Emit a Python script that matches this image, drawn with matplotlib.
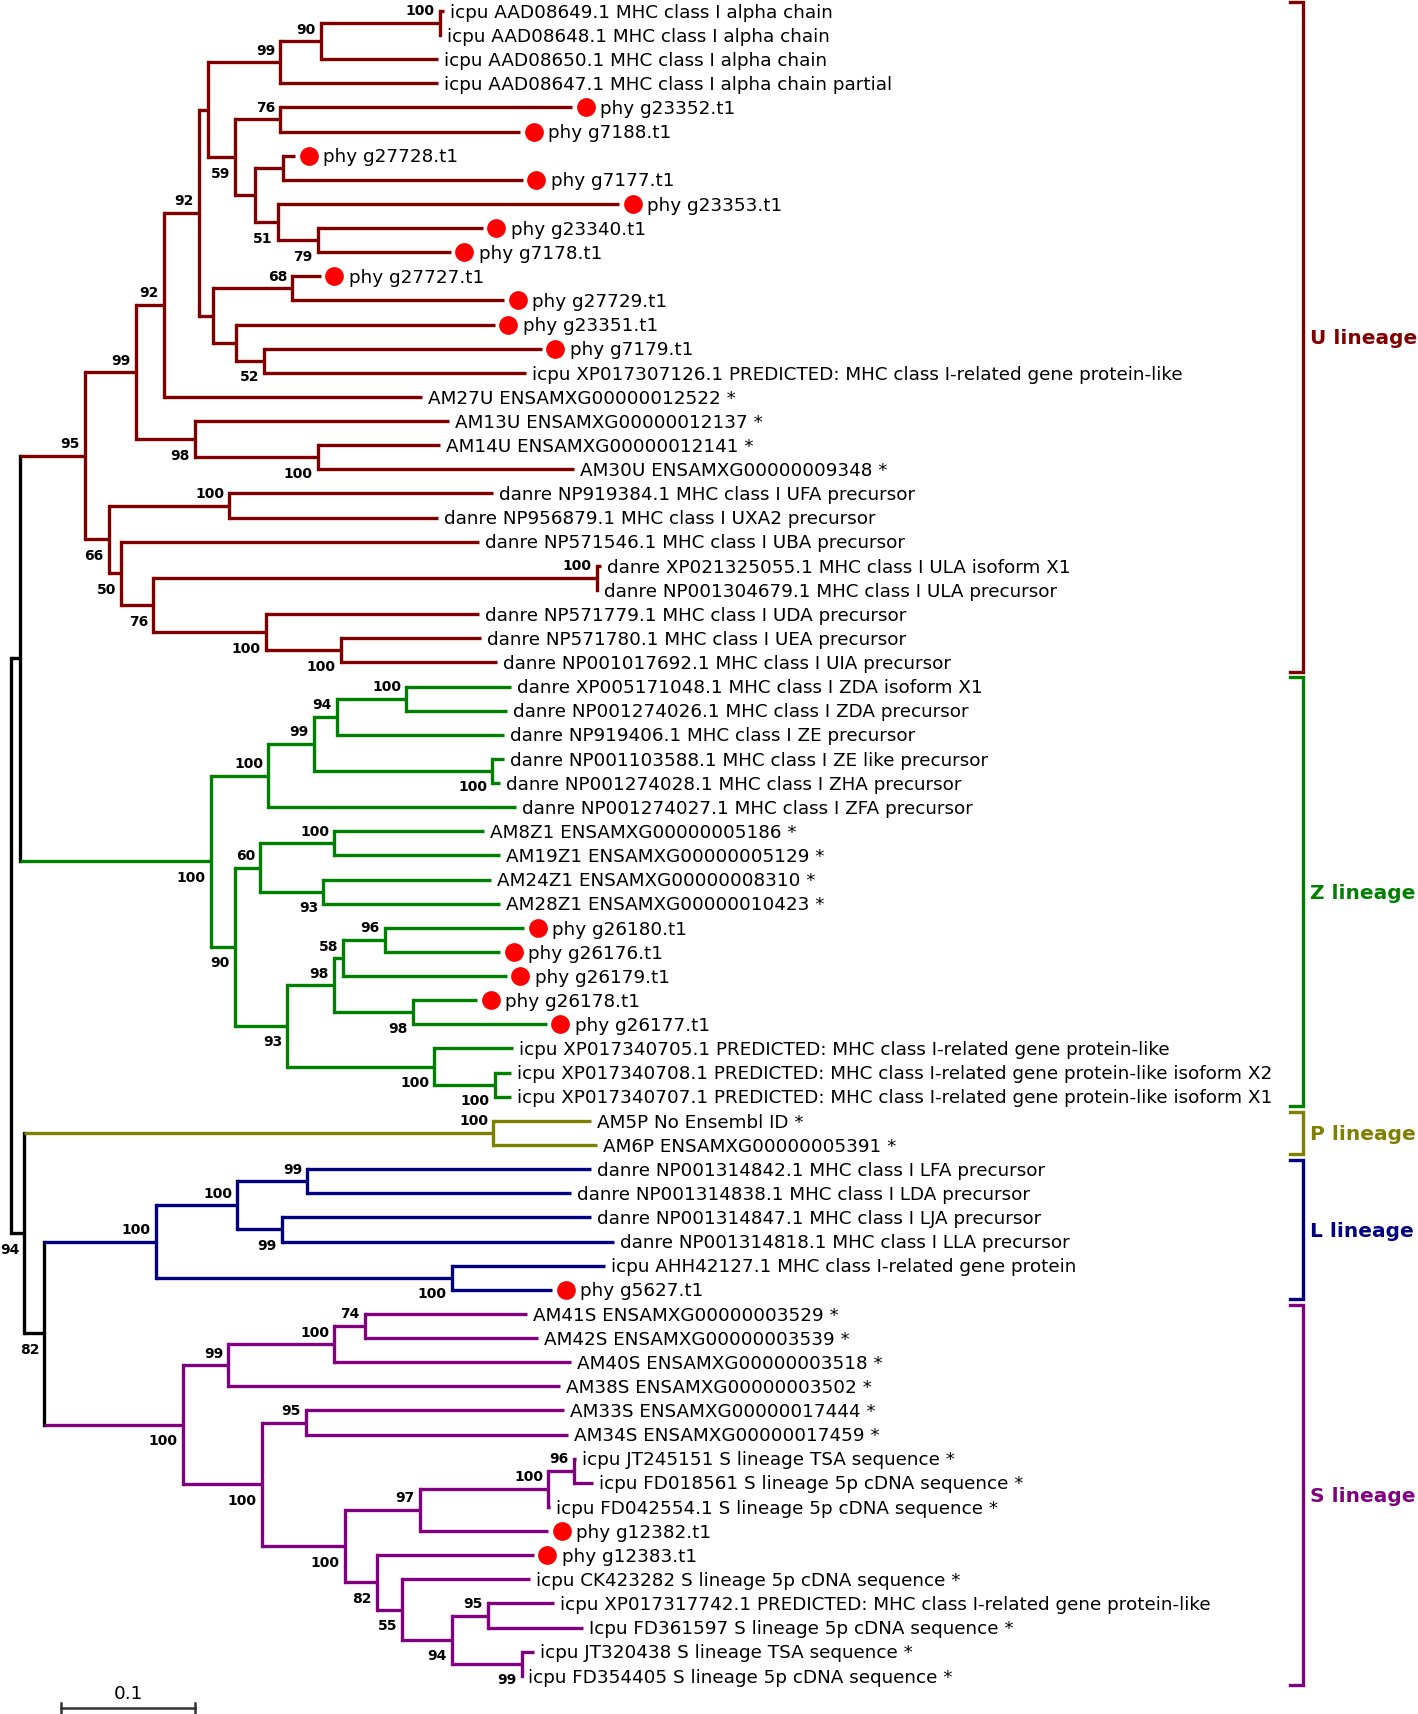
import matplotlib

matplotlib.use("Agg")
import matplotlib.pyplot as plt
from matplotlib.transforms import offset_copy

# ---------- leaves (top to bottom) ----------
leaf_names = [
    "icpu AAD08649.1 MHC class I alpha chain",
    "icpu AAD08648.1 MHC class I alpha chain",
    "icpu AAD08650.1 MHC class I alpha chain",
    "icpu AAD08647.1 MHC class I alpha chain partial",
    "phy g23352.t1",
    "phy g7188.t1",
    "phy g27728.t1",
    "phy g7177.t1",
    "phy g23353.t1",
    "phy g23340.t1",
    "phy g7178.t1",
    "phy g27727.t1",
    "phy g27729.t1",
    "phy g23351.t1",
    "phy g7179.t1",
    "icpu XP017307126.1 PREDICTED: MHC class I-related gene protein-like",
    "AM27U ENSAMXG00000012522 *",
    "AM13U ENSAMXG00000012137 *",
    "AM14U ENSAMXG00000012141 *",
    "AM30U ENSAMXG00000009348 *",
    "danre NP919384.1 MHC class I UFA precursor",
    "danre NP956879.1 MHC class I UXA2 precursor",
    "danre NP571546.1 MHC class I UBA precursor",
    "danre XP021325055.1 MHC class I ULA isoform X1",
    "danre NP001304679.1 MHC class I ULA precursor",
    "danre NP571779.1 MHC class I UDA precursor",
    "danre NP571780.1 MHC class I UEA precursor",
    "danre NP001017692.1 MHC class I UIA precursor",
    "danre XP005171048.1 MHC class I ZDA isoform X1",
    "danre NP001274026.1 MHC class I ZDA precursor",
    "danre NP919406.1 MHC class I ZE precursor",
    "danre NP001103588.1 MHC class I ZE like precursor",
    "danre NP001274028.1 MHC class I ZHA precursor",
    "danre NP001274027.1 MHC class I ZFA precursor",
    "AM8Z1 ENSAMXG00000005186 *",
    "AM19Z1 ENSAMXG00000005129 *",
    "AM24Z1 ENSAMXG00000008310 *",
    "AM28Z1 ENSAMXG00000010423 *",
    "phy g26180.t1",
    "phy g26176.t1",
    "phy g26179.t1",
    "phy g26178.t1",
    "phy g26177.t1",
    "icpu XP017340705.1 PREDICTED: MHC class I-related gene protein-like",
    "icpu XP017340708.1 PREDICTED: MHC class I-related gene protein-like isoform X2",
    "icpu XP017340707.1 PREDICTED: MHC class I-related gene protein-like isoform X1",
    "AM5P No Ensembl ID *",
    "AM6P ENSAMXG00000005391 *",
    "danre NP001314842.1 MHC class I LFA precursor",
    "danre NP001314838.1 MHC class I LDA precursor",
    "danre NP001314847.1 MHC class I LJA precursor",
    "danre NP001314818.1 MHC class I LLA precursor",
    "icpu AHH42127.1 MHC class I-related gene protein",
    "phy g5627.t1",
    "AM41S ENSAMXG00000003529 *",
    "AM42S ENSAMXG00000003539 *",
    "AM40S ENSAMXG00000003518 *",
    "AM38S ENSAMXG00000003502 *",
    "AM33S ENSAMXG00000017444 *",
    "AM34S ENSAMXG00000017459 *",
    "icpu JT245151 S lineage TSA sequence *",
    "icpu FD018561 S lineage 5p cDNA sequence *",
    "icpu FD042554.1 S lineage 5p cDNA sequence *",
    "phy g12382.t1",
    "phy g12383.t1",
    "icpu CK423282 S lineage 5p cDNA sequence *",
    "icpu XP017317742.1 PREDICTED: MHC class I-related gene protein-like",
    "Icpu FD361597 S lineage 5p cDNA sequence *",
    "icpu JT320438 S lineage TSA sequence *",
    "icpu FD354405 S lineage 5p cDNA sequence *",
]

# distance of each tip from the root (substitutions per site)
leaf_depth = [
    0.323, 0.321, 0.319, 0.319, 0.419, 0.380, 0.212, 0.382, 0.454, 0.352,
    0.328, 0.231, 0.368, 0.361, 0.396, 0.384, 0.307, 0.327, 0.320, 0.420,
    0.360, 0.319, 0.349, 0.440, 0.438, 0.349, 0.351, 0.363, 0.373, 0.370,
    0.368, 0.368, 0.365, 0.377, 0.353, 0.365, 0.358, 0.365, 0.383, 0.365,
    0.370, 0.348, 0.400, 0.375, 0.373, 0.373, 0.433, 0.437, 0.433, 0.418,
    0.433, 0.450, 0.443, 0.404, 0.385, 0.393, 0.418, 0.410, 0.413, 0.416,
    0.422, 0.434, 0.402, 0.401, 0.390, 0.387, 0.405, 0.427, 0.390, 0.381,
]

lineage_names = ["U lineage", "Z lineage", "P lineage", "L lineage", "S lineage"]
lineage_sizes = [28, 18, 2, 6, 16]
lineage_colors = ["#800000", "#008000", "#808000", "#000080", "#800080"]

# internal nodes: name, children (leaf index or node name), depth, bootstrap
clades = [
    ("u1", [0, 1], 0.320, 100),
    ("u2", ["u1", 2], 0.231, 90),
    ("u3", ["u2", 3], 0.201, 99),
    ("u4", [4, 5], 0.201, 76),
    ("u5", [6, 7], 0.203, None),
    ("u6", [9, 10], 0.229, 79),
    ("u7", [8, "u6"], 0.199, 51),
    ("u8", ["u5", "u7"], 0.182, None),
    ("u9", ["u4", "u8"], 0.167, 59),
    ("u10", ["u3", "u9"], 0.147, None),
    ("u11", [11, 12], 0.210, 68),
    ("u12", [14, 15], 0.189, 52),
    ("u13", [13, "u12"], 0.168, None),
    ("u14", ["u11", "u13"], 0.151, None),
    ("u15", ["u10", "u14"], 0.140, 92),
    ("u16", ["u15", 16], 0.114, 92),
    ("u17", [18, 19], 0.229, 100),
    ("u18", [17, "u17"], 0.137, 98),
    ("u19", ["u16", "u18"], 0.093, 99),
    ("u20", [20, 21], 0.163, 100),
    ("u21", [23, 24], 0.437, 100),
    ("u22", [26, 27], 0.246, 100),
    ("u23", [25, "u22"], 0.190, 100),
    ("u24", ["u21", "u23"], 0.106, 76),
    ("u25", [22, "u24"], 0.082, 50),
    ("u26", ["u20", "u25"], 0.073, 66),
    ("u27", ["u19", "u26"], 0.055, 95),
    ("z1", [28, 29], 0.295, 100),
    ("z2", ["z1", 30], 0.243, 94),
    ("z3", [31, 32], 0.359, 100),
    ("z4", ["z2", "z3"], 0.226, 99),
    ("z5", ["z4", 33], 0.192, 100),
    ("z6", [34, 35], 0.241, 100),
    ("z7", [36, 37], 0.233, 93),
    ("z8", ["z6", "z7"], 0.186, 60),
    ("z9", [38, 39], 0.279, 96),
    ("z10", ["z9", 40], 0.248, 58),
    ("z11", [41, 42], 0.300, 98),
    ("z12", ["z10", "z11"], 0.241, 98),
    ("z13", [44, 45], 0.361, 100),
    ("z14", [43, "z13"], 0.316, 100),
    ("z15", ["z12", "z14"], 0.206, 93),
    ("z16", ["z8", "z15"], 0.167, 90),
    ("z17", ["z5", "z16"], 0.149, 100),
    ("p1", [46, 47], 0.360, 100),
    ("l1", [48, 49], 0.221, 99),
    ("l2", [50, 51], 0.202, 99),
    ("l3", ["l1", "l2"], 0.169, 100),
    ("l4", [52, 53], 0.329, 100),
    ("l5", ["l3", "l4"], 0.108, 100),
    ("s1", [54, 55], 0.264, 74),
    ("s2", ["s1", 56], 0.241, 100),
    ("s3", ["s2", 57], 0.162, 99),
    ("s4", [58, 59], 0.220, 95),
    ("s5", [60, 61], 0.420, 96),
    ("s6", ["s5", 62], 0.401, 100),
    ("s7", ["s6", 63], 0.305, 97),
    ("s8", [66, 67], 0.356, 95),
    ("s9", [68, 69], 0.381, 99),
    ("s10", ["s8", "s9"], 0.329, 94),
    ("s11", [65, "s10"], 0.292, 55),
    ("s12", [64, "s11"], 0.273, 82),
    ("s13", ["s7", "s12"], 0.249, 100),
    ("s14", ["s4", "s13"], 0.187, 100),
    ("s15", ["s3", "s14"], 0.128, 100),
    ("ls", ["l5", "s15"], 0.025, 82),
    ("pls", ["p1", "ls"], 0.010, 94),
    ("uz", ["u27", "z17"], 0.007, None),
    ("root", ["uz", "pls"], 0.000, None),
]

scale_len = 0.1

# ---------- layout ----------
W, H, DPI = 1418, 1714, 100
PT = 72 / DPI  # points per pixel
ROOT_PX, UNIT_PX = 11, 1340  # root x in pixels, pixels per unit
TOP_PX, ROW_PX = 10.9, 24.13


def px(x):
    return (x - ROOT_PX) / UNIT_PX


def py(y):
    return (y - TOP_PX) / ROW_PX


LW = 2.4

fig = plt.figure(figsize=(W / DPI, H / DPI), dpi=DPI)
ax = fig.add_axes([0, 0, 1, 1])
ax.set_xlim(px(0), px(W))
ax.set_ylim(py(H), py(0))
ax.axis("off")

leaf_color = []
for size, col in zip(lineage_sizes, lineage_colors):
    leaf_color += [col] * size

pos = {}
for i, d in enumerate(leaf_depth):
    pos[i] = (d, i, leaf_color[i])
parent = {}
for name, kids, d, bs in clades:
    ys = [pos[k][1] for k in kids]
    cols = {pos[k][2] for k in kids}
    col = cols.pop() if len(cols) == 1 else "black"
    pos[name] = (d, (min(ys) + max(ys)) / 2, col)
    for k in kids:
        parent[k] = name

# branches
for name, kids, d, bs in clades:
    x, y, col = pos[name]
    ys = [pos[k][1] for k in kids]
    ax.plot([x, x], [min(ys), max(ys)], color=col, lw=LW,
            solid_capstyle="projecting", zorder=2)
    for k in kids:
        kx, ky, kc = pos[k]
        ax.plot([x, kx], [ky, ky], color=kc, lw=LW, solid_capstyle="butt", zorder=2)

# bootstrap values
for name, kids, d, bs in clades:
    if bs is None:
        continue
    x, y, col = pos[name]
    above = y < pos[parent[name]][1]
    dy = 12.5 if above else -15.5
    ax.annotate(str(bs), (x, y), xytext=(-5 * PT, dy * PT - 3.6),
                textcoords="offset points", ha="right", va="baseline",
                fontsize=10, fontweight="bold", color="black")

# leaf labels and red dots
dot_tr = offset_copy(ax.transData, fig=fig, x=13.5 * PT, y=0, units="points")
for i, name in enumerate(leaf_names):
    x = leaf_depth[i]
    off = 6
    if name.startswith("phy"):
        ax.plot(x, i, "o", ms=13.5, color="#ff0000", mec="none",
                transform=dot_tr, zorder=3)
        off = 28
    ax.annotate(name, (x, i), xytext=(off * PT, -4.8), textcoords="offset points",
                ha="left", va="baseline", fontsize=13.2, color="black")

# lineage brackets
start = 0
for lname, size, col in zip(lineage_names, lineage_sizes, lineage_colors):
    y0, y1 = start - 0.38, start + size - 1 + 0.38
    bx = px(1303)
    ax.plot([px(1290), bx, bx, px(1290)], [y0, y0, y1, y1], color=col, lw=LW,
            solid_joinstyle="miter", zorder=2)
    ax.annotate(lname, (px(1310), (start + start + size - 1) / 2),
                xytext=(0, -5.3), textcoords="offset points", ha="left",
                va="baseline", fontsize=14.5, fontweight="bold", color=col)
    start += size

# scale bar
sx0 = px(61)
sy = py(1708)
ax.plot([sx0, sx0 + scale_len], [sy, sy], color="#333333", lw=1.8)
for sx in (sx0, sx0 + scale_len):
    ax.plot([sx, sx], [sy - 0.2, sy + 0.2], color="#333333", lw=1.8)
ax.text(sx0 + scale_len / 2, py(1699), f"{scale_len}", ha="center",
        va="baseline", fontsize=13.2, color="black")

fig.savefig("out.png", dpi=DPI)
plt.close()
